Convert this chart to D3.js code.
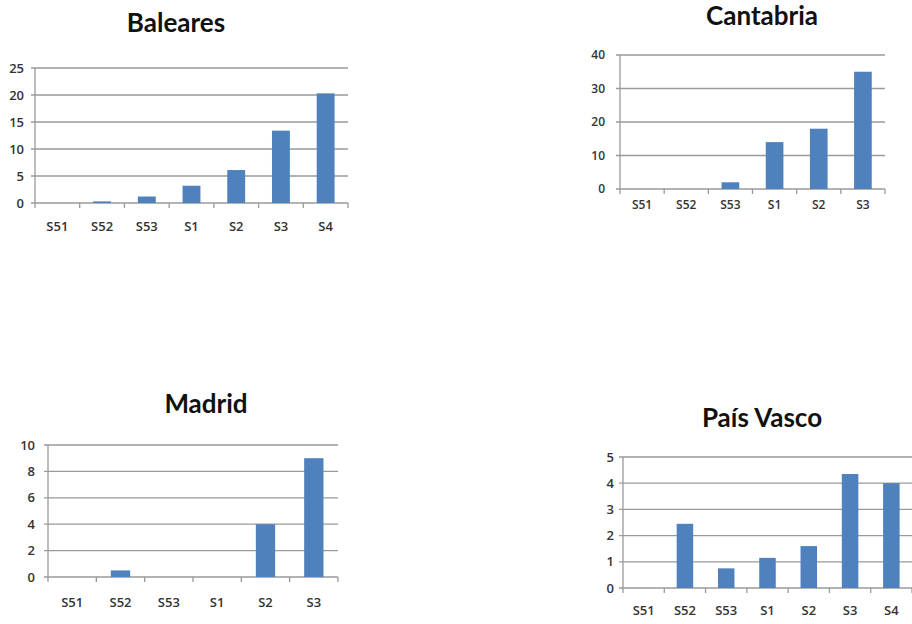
<!DOCTYPE html>
<html>
<head>
<meta charset="utf-8">
<script src="https://cdn.jsdelivr.net/npm/d3@7"></script>
<style>
  body { margin: 0; background: #fff; }
  svg { display: block; }
</style>
</head>
<body>
<div id="viz"></div>
<script>
// data
const regions = ['Baleares', 'Cantabria', 'Madrid', 'País Vasco'];

const balearesWeeks = ['S51', 'S52', 'S53', 'S1', 'S2', 'S3', 'S4'];
const balearesValues = [0, 0.3, 1.2, 3.2, 6.1, 13.4, 20.3];
const balearesTicks = [0, 5, 10, 15, 20, 25];

const cantabriaWeeks = ['S51', 'S52', 'S53', 'S1', 'S2', 'S3'];
const cantabriaValues = [0, 0, 2, 14, 18, 35];
const cantabriaTicks = [0, 10, 20, 30, 40];

const madridWeeks = ['S51', 'S52', 'S53', 'S1', 'S2', 'S3'];
const madridValues = [0, 0.5, 0, 0, 4, 9];
const madridTicks = [0, 2, 4, 6, 8, 10];

const vascoWeeks = ['S51', 'S52', 'S53', 'S1', 'S2', 'S3', 'S4'];
const vascoValues = [0, 2.45, 0.75, 1.15, 1.6, 4.35, 4.0];
const vascoTicks = [0, 1, 2, 3, 4, 5];

// layout of each panel on the page
const panels = [
    { weeks: balearesWeeks, values: balearesValues, ticks: balearesTicks,
      left: 35, right: 348, top: 68, bottom: 203, titleX: 176, titleY: 32, catDy: 28, yPad: 11, font: 14 },
    { weeks: cantabriaWeeks, values: cantabriaValues, ticks: cantabriaTicks,
      left: 620, right: 885, top: 55, bottom: 189, titleX: 762, titleY: 25, catDy: 20, yPad: 15, font: 13 },
    { weeks: madridWeeks, values: madridValues, ticks: madridTicks,
      left: 48, right: 338, top: 445, bottom: 577, titleX: 206, titleY: 413, catDy: 30, yPad: 13, font: 14 },
    { weeks: vascoWeeks, values: vascoValues, ticks: vascoTicks,
      left: 623, right: 912, top: 457, bottom: 588, titleX: 762, titleY: 427, catDy: 27, yPad: 9, font: 14 },
];

const svg = d3.select('#viz')
    .append('svg')
    .attr('width', 912)
    .attr('height', 624);

const barColor = '#4f81bd';
const gridColor = '#9a9a9a';
const textColor = '#333';

panels.forEach((p, k) => {
    const g = svg.append('g');

    const x = d3.scaleBand()
        .domain(p.weeks)
        .range([p.left, p.right]);

    const y = d3.scaleLinear()
        .domain([0, d3.max(p.ticks)])
        .range([p.bottom, p.top]);

    // gridlines
    g.append('g')
        .selectAll('line')
        .data(p.ticks)
        .join('line')
        .attr('x1', p.left - 4)
        .attr('x2', p.right)
        .attr('y1', (d) => y(d))
        .attr('y2', (d) => y(d))
        .attr('stroke', gridColor)
        .attr('stroke-width', 1.3);

    // y axis line
    g.append('line')
        .attr('x1', p.left).attr('x2', p.left)
        .attr('y1', p.top).attr('y2', p.bottom)
        .attr('stroke', gridColor)
        .attr('stroke-width', 1.3);

    // y labels
    g.append('g')
        .selectAll('text')
        .data(p.ticks)
        .join('text')
        .attr('x', p.left - p.yPad)
        .attr('y', (d) => y(d))
        .attr('dy', '0.35em')
        .attr('text-anchor', 'end')
        .attr('font-family', 'Open Sans, sans-serif')
        .attr('font-weight', 600)
        .attr('font-size', p.font - 1)
        .attr('fill', textColor)
        .text((d) => d);

    // category ticks at band edges
    const edges = p.weeks.map((w) => x(w)).concat([p.right]);
    g.append('g')
        .selectAll('line')
        .data(edges)
        .join('line')
        .attr('x1', (d) => d).attr('x2', (d) => d)
        .attr('y1', p.bottom).attr('y2', p.bottom + 5)
        .attr('stroke', gridColor)
        .attr('stroke-width', 1.3);

    // bars
    const bw = x.bandwidth() * 0.4;
    g.append('g')
        .selectAll('rect')
        .data(p.values)
        .join('rect')
        .attr('x', (d, i) => x(p.weeks[i]) + (x.bandwidth() - bw) / 2)
        .attr('y', (d) => y(d))
        .attr('width', bw)
        .attr('height', (d) => p.bottom - y(d))
        .attr('fill', barColor);

    // category labels
    g.append('g')
        .selectAll('text')
        .data(p.weeks)
        .join('text')
        .attr('x', (d) => x(d) + x.bandwidth() / 2)
        .attr('y', p.bottom + p.catDy)
        .attr('text-anchor', 'middle')
        .attr('font-family', 'Open Sans, sans-serif')
        .attr('font-weight', 600)
        .attr('font-size', p.font - 1)
        .attr('fill', textColor)
        .text((d) => d);

    // title
    g.append('text')
        .attr('x', p.titleX)
        .attr('y', p.titleY)
        .attr('text-anchor', 'middle')
        .attr('font-family', 'Lato, sans-serif')
        .attr('font-weight', 'bold')
        .attr('font-size', 26)
        .attr('fill', '#111')
        .text(regions[k]);
});
</script>
</body>
</html>
